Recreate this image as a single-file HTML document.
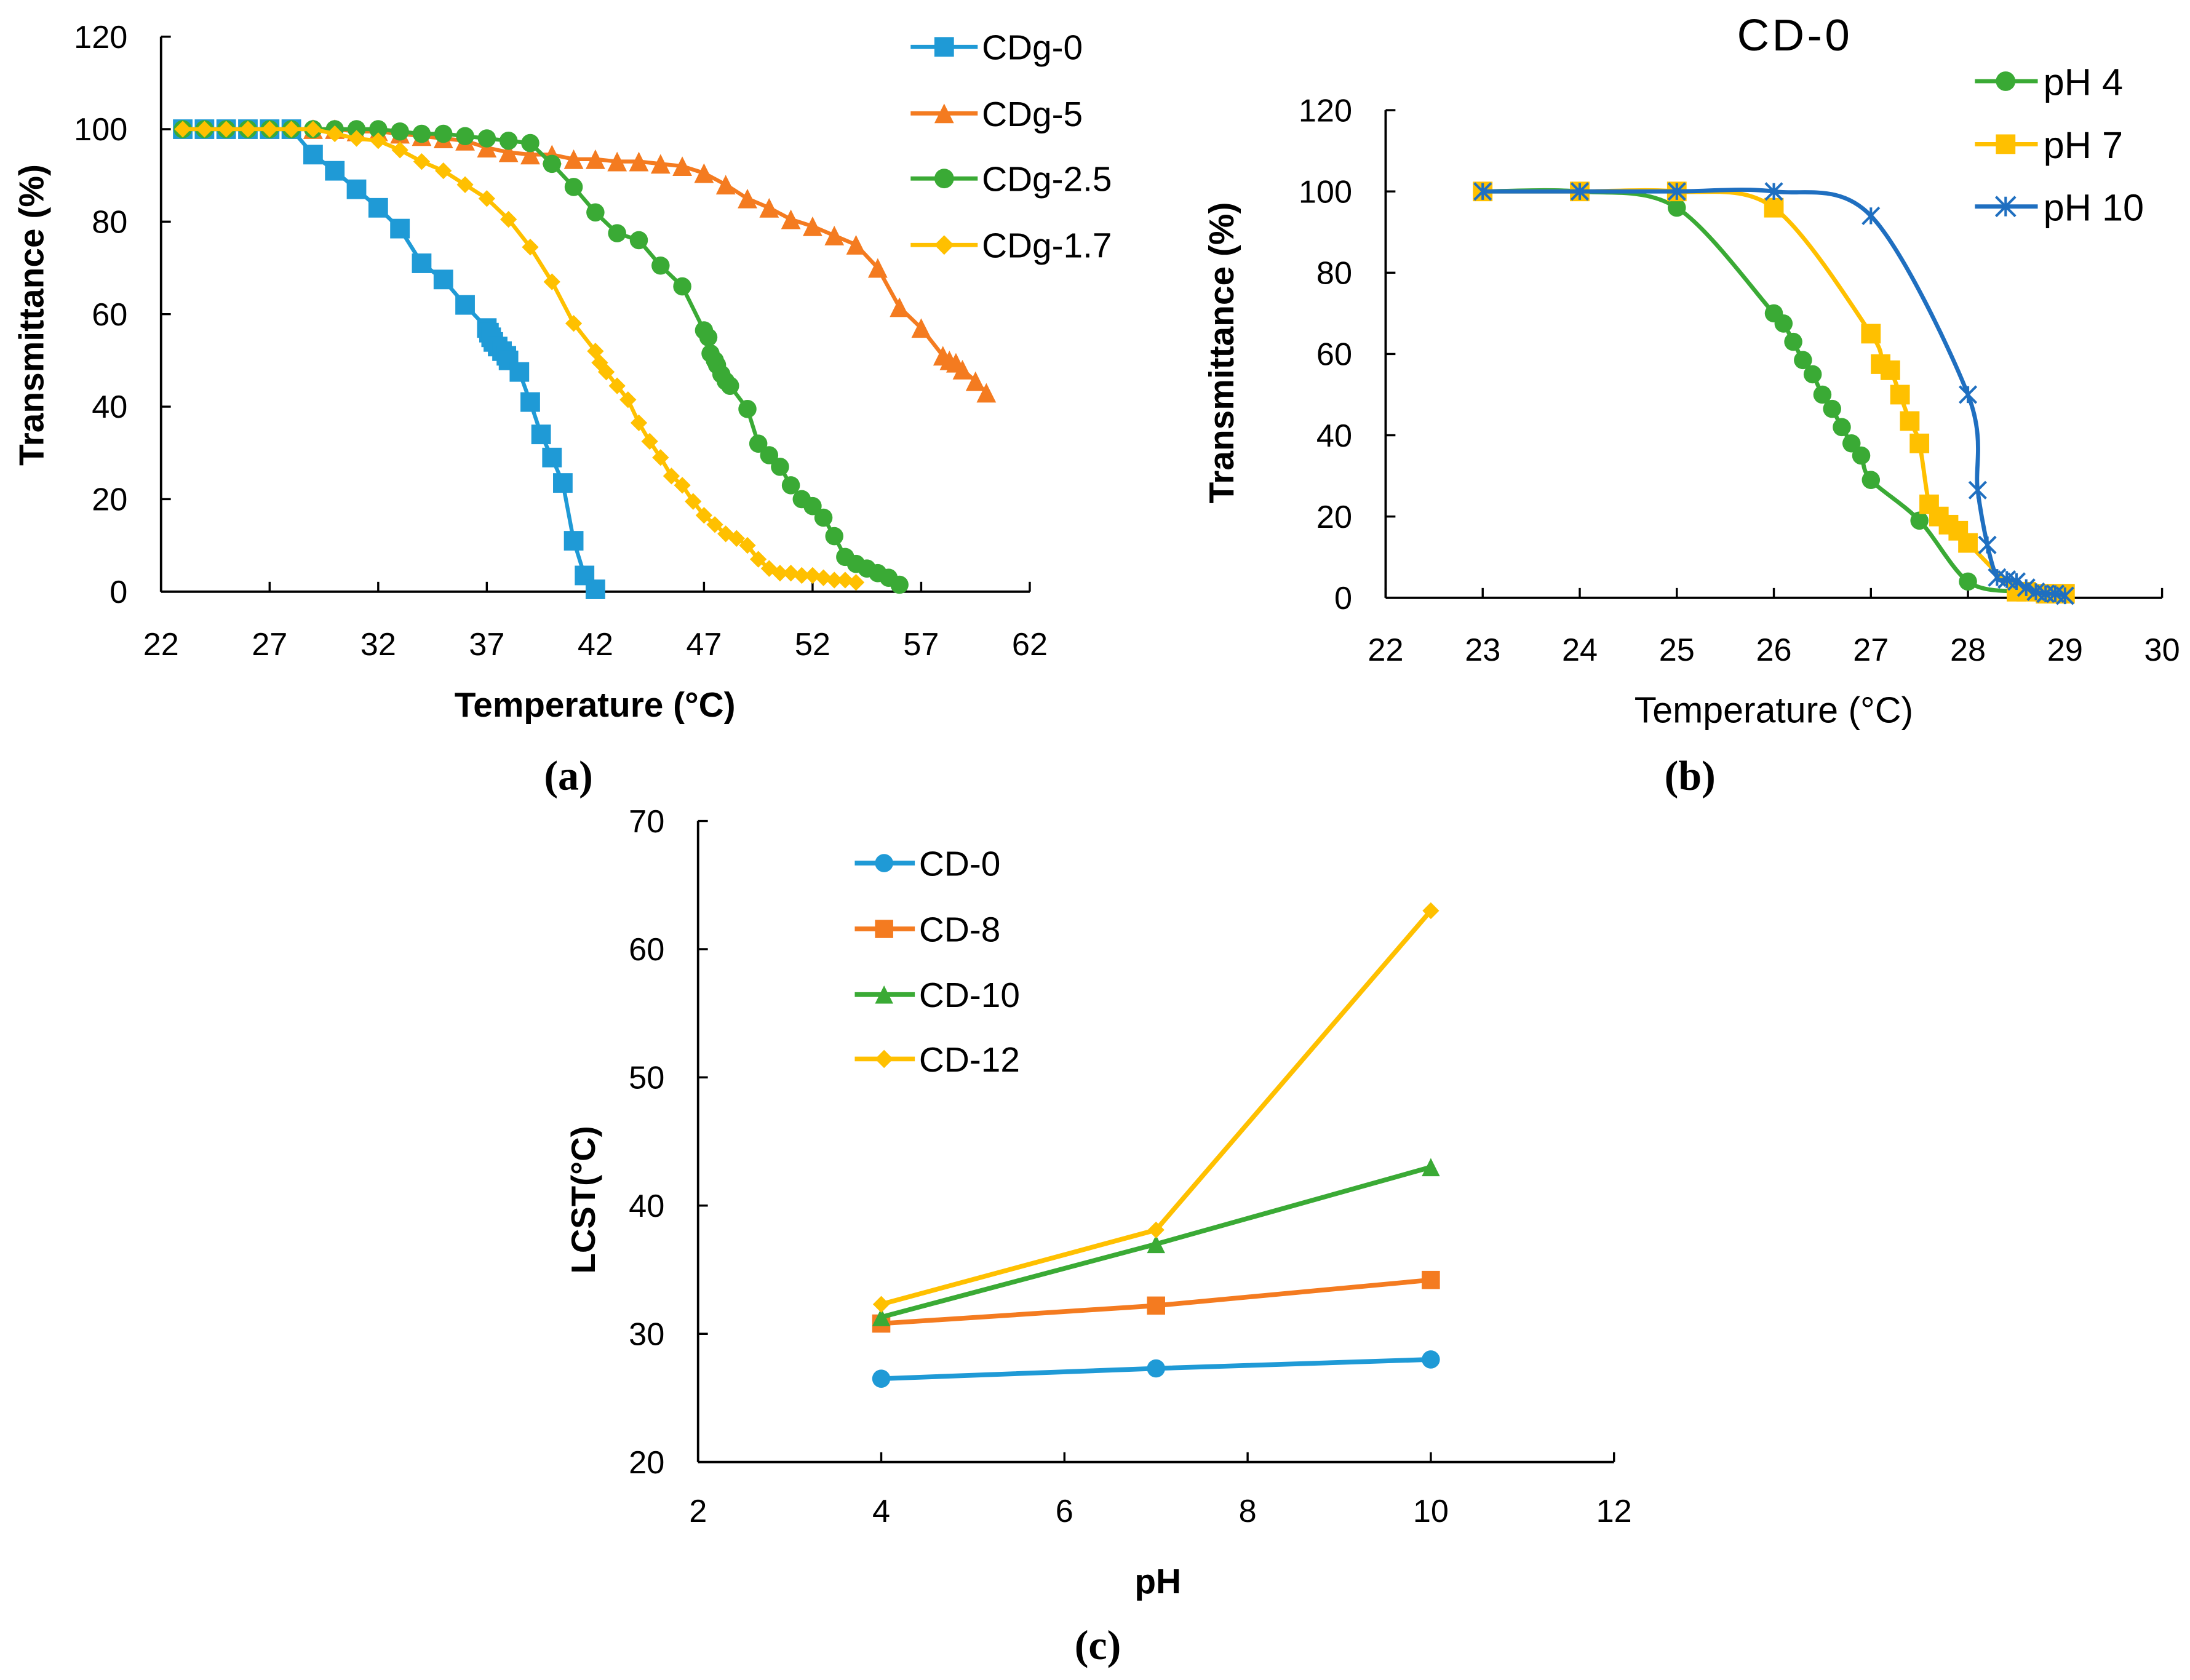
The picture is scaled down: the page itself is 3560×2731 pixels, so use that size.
<!DOCTYPE html>
<html><head><meta charset="utf-8"><style>
html,body{margin:0;padding:0;background:#fff;}
svg{display:block;}
text{font-family:"Liberation Sans",sans-serif;fill:#000;}
</style></head><body>
<svg id="fig" width="3560" height="2731" viewBox="0 0 1568 1200" preserveAspectRatio="none" xmlns="http://www.w3.org/2000/svg">
<rect width="1568" height="1200" fill="#fff"/>
</svg>
<script>
// ---------- Panel (a) data ----------
const aXTicks = [22,27,32,37,42,47,52,57,62];
const aYTicks = [0,20,40,60,80,100,120];
const aNames = ["CDg-0","CDg-5","CDg-2.5","CDg-1.7"];
const aCDg0T = [23,24,25,26,27,28,29,30,31,32,33,34,35,36,37,37.1,37.2,37.3,37.5,37.7,37.9,38,38.5,39,39.5,40,40.5,41,41.5,42];
const aCDg0V = [100,100,100,100,100,100,94.5,91,87,83,78.5,71,67.5,62,57,56,55,54,53,52,51,50,47.5,41,34,29,23.5,11,3.5,0.5];
const aCDg5T = [23,24,25,26,27,28,29,30,31,32,33,34,35,36,37,38,39,40,41,42,43,44,45,46,47,48,49,50,51,52,53,54,55,56,57,58,58.3,58.6,58.9,59.5,60];
const aCDg5V = [100,100,100,100,100,100,100,100,99.5,99.5,99,98.5,98,97.5,96,95,94.5,94.5,93.5,93.5,93,93,92.5,92,90.5,88,85,83,80.5,79,77,75,70,61.5,57,51,50,49.5,48,45.5,43];
const aCDg25T = [23,24,25,26,27,28,29,30,31,32,33,34,35,36,37,38,39,40,41,42,43,44,45,46,47,47.2,47.3,47.5,47.6,47.8,48,48.2,49,49.5,50,50.5,51,51.5,52,52.5,53,53.5,54,54.5,55,55.5,56];
const aCDg25V = [100,100,100,100,100,100,100,100,100,100,99.5,99,99,98.5,98,97.5,97,92.5,87.5,82,77.5,76,70.5,66,56.5,55,51.5,50,49,47,45.5,44.5,39.5,32,29.5,27,23,20,18.5,16,12,7.5,6,5,4,3,1.5];
const aCDg17T = [23,24,25,26,27,28,29,30,31,32,33,34,35,36,37,38,39,40,41,42,42.2,42.5,43,43.5,44,44.5,45,45.5,46,46.5,47,47.5,48,48.5,49,49.5,50,50.5,51,51.5,52,52.5,53,53.5,54];
const aCDg17V = [100,100,100,100,100,100,100,99,98,97.5,95.5,93,91,88,85,80.5,74.5,67,58,52,49.5,47.5,44.5,41.5,36.5,32.5,29,25,23,19.5,16.5,14.5,12.5,11.5,10,7,5,4,4,3.5,3.5,3,2.5,2.5,2];

// ---------- Panel (b) data ----------
const bXTicks = [22,23,24,25,26,27,28,29,30];
const bYTicks = [0,20,40,60,80,100,120];
const bNames = ["pH 4","pH 7","pH 10"];
const bPH4T = [23,24,25,26,26.1,26.2,26.3,26.4,26.5,26.6,26.7,26.8,26.9,27,27.5,28,28.5];
const bPH4V = [100,100,96,70,67.5,63,58.5,55,50,46.5,42,38,35,29,19,4,1.5];
const bPH7T = [23,24,25,26,27,27.1,27.2,27.3,27.4,27.5,27.6,27.7,27.8,27.9,28,28.5,28.6,28.8,29];
const bPH7V = [100,100,100,96,65,57.5,56,50,43.5,38,23,20,18,16.5,13.5,1.5,1.5,1,1];
const bPH10T = [23,24,25,26,27,28,28.1,28.2,28.3,28.4,28.5,28.6,28.7,28.8,28.9,29];
const bPH10V = [100,100,100,100,94,50,26.5,13,5,4.5,4,2.5,1.5,1,1,0.5];

// ---------- Panel (c) data ----------
const cXTicks = [2,4,6,8,10,12];
const cYTicks = [20,30,40,50,60,70];
const cNames = ["CD-0","CD-8","CD-10","CD-12"];
const cPH = [4,7,10];
const cCD0 = [26.5,27.3,28];
const cCD8 = [30.8,32.2,34.2];
const cCD10 = [31.3,37,43];
const cCD12 = [32.3,38.1,63];

const NS = "http://www.w3.org/2000/svg";
const svg = document.getElementById('fig');
function el(tag, attrs, parent){
  const e = document.createElementNS(NS, tag);
  for (const k in attrs) e.setAttribute(k, attrs[k]);
  (parent||svg).appendChild(e);
  return e;
}
function txt(s, x, y, size, opts, parent){
  const t = el('text', {x:x, y:y, 'font-size':size}, parent);
  if (opts){ for (const k in opts){ if (k==='font-family') t.style.fontFamily = opts[k]; else t.setAttribute(k, opts[k]); } }
  t.textContent = s;
  return t;
}
function marker(g, type, x, y, color, s){
  let m;
  if (type==='square') m = el('rect',{x:x-s/2,y:y-s/2,width:s,height:s,fill:color},g);
  else if (type==='circle') m = el('circle',{cx:x,cy:y,r:s/2,fill:color},g);
  else if (type==='triangle') m = el('polygon',{points:`${x},${y-s/2} ${x+s/2},${y+s/2} ${x-s/2},${y+s/2}`,fill:color},g);
  else if (type==='diamond') m = el('polygon',{points:`${x},${y-s/2} ${x+s/2},${y} ${x},${y+s/2} ${x-s/2},${y}`,fill:color},g);
  else if (type==='star'){
    const d=s/2;
    m = el('path',{d:`M${x-d},${y-d}L${x+d},${y+d}M${x-d},${y+d}L${x+d},${y-d}M${x},${y-d}L${x},${y+d}`,stroke:color,'stroke-width':1.8,fill:'none'},g);
  }
  return m;
}
function smoothPath(pts){
  if (pts.length<2) return '';
  let d = `M${pts[0][0]},${pts[0][1]}`;
  for (let i=0;i<pts.length-1;i++){
    const p0=pts[Math.max(0,i-1)], p1=pts[i], p2=pts[i+1], p3=pts[Math.min(pts.length-1,i+2)];
    const t=0.16;
    const c1=[p1[0]+(p2[0]-p0[0])*t, p1[1]+(p2[1]-p0[1])*t];
    const c2=[p2[0]-(p3[0]-p1[0])*t, p2[1]-(p3[1]-p1[1])*t];
    d+=`C${c1[0]},${c1[1]} ${c2[0]},${c2[1]} ${p2[0]},${p2[1]}`;
  }
  return d;
}
function axes(g, cfg){
  el('line',{x1:cfg.x0,y1:cfg.yb,x2:cfg.x1,y2:cfg.yb,stroke:'#000','stroke-width':1.7},g);
  el('line',{x1:cfg.x0,y1:cfg.yb,x2:cfg.x0,y2:cfg.yt,stroke:'#000','stroke-width':1.7},g);
  cfg.xt.forEach(v=>{
    const x=cfg.sx(v);
    el('line',{x1:x,y1:cfg.yb,x2:x,y2:cfg.yb-7,stroke:'#000','stroke-width':1.5},g);
    txt(String(v), x, cfg.xly, 23, {'text-anchor':'middle'}, g);
  });
  cfg.yt2.forEach(v=>{
    const y=cfg.sy(v);
    el('line',{x1:cfg.x0,y1:y,x2:cfg.x0+7,y2:y,stroke:'#000','stroke-width':1.5},g);
    txt(String(v), cfg.x0-24, y+8, 23, {'text-anchor':'end'}, g);
  });
}

// ===== Panel a =====
const ga = el('g',{});


const aX = v => 115.3 + (v-22)/40*(737.3-115.3);
const aY = v => 422.6 - v/120*(422.6-26.2);
axes(ga,{x0:115.3,x1:737.3,yb:422.6,yt:26.2,sx:aX,sy:aY,xt:aXTicks,yt2:aYTicks,xly:468});
txt('Transmittance (%)', 0,0,25,{'font-weight':'bold','text-anchor':'middle',transform:'translate(31,225) rotate(-90)'},ga);
txt('Temperature (°C)', 426,512,25,{'font-weight':'bold','text-anchor':'middle'},ga);
txt('(a)', 407,564,30,{'text-anchor':'middle','font-family':'"Liberation Serif", serif','font-weight':'bold'},ga);
const aSeries = [[aCDg0T,aCDg0V,'#1f9ad6','square'],[aCDg5T,aCDg5V,'#f47b20','triangle'],[aCDg25T,aCDg25V,'#3aaa35','circle'],[aCDg17T,aCDg17V,'#ffc000','diamond']];
const aDrawOrder=[1,0,2,3];
aDrawOrder.forEach(i=>{
  const [T,V,c,m]=aSeries[i];
  const g=el('g',{},ga);
  
  
  el('polyline',{points:T.map((t,k)=>aX(t)+','+aY(V[k])).join(' '),fill:'none',stroke:c,'stroke-width':2.8},g);
  T.forEach((t,k)=>marker(g,m,aX(t),aY(V[k]),c,m==='circle'?13:(m==='diamond'?12:14)));
});
const aLegY=[33.5,81,127.5,175];
aNames.forEach((n,i)=>{
  const g=el('g',{},ga);
  
  
  const [,,c,m]=aSeries[i];
  el('line',{x1:652,y1:aLegY[i],x2:700,y2:aLegY[i],stroke:c,'stroke-width':3},g);
  marker(g,m,676,aLegY[i],c,14);
  txt(n,703,aLegY[i]+9,25,{},g);
});

// ===== Panel b =====
const gb = el('g',{});


const bX = v => 992.1 + (v-22)/8*(1548-992.1);
const bY = v => 427 - v/120*(427-78.7);
axes(gb,{x0:992.1,x1:1548,yb:427,yt:78.7,sx:bX,sy:bY,xt:bXTicks,yt2:bYTicks,xly:472});
txt('CD-0',1285,36,32,{'text-anchor':'middle','letter-spacing':'2'},gb);
txt('Transmittance (%)',0,0,25,{'font-weight':'bold','text-anchor':'middle',transform:'translate(883,252) rotate(-90)'},gb);
txt('Temperature (°C)',1270,516,26,{'text-anchor':'middle'},gb);
txt('(b)',1210,564,30,{'text-anchor':'middle','font-family':'"Liberation Serif", serif','font-weight':'bold'},gb);
const bSeries=[[bPH4T,bPH4V,'#3aaa35','circle'],[bPH7T,bPH7V,'#ffc000','square'],[bPH10T,bPH10V,'#1f6fc0','star']];
bSeries.forEach((s,i)=>{
  const [T,V,c,m]=s;
  const g=el('g',{},gb);
  
  
  const pts=T.map((t,k)=>[bX(t),bY(V[k])]);
  el('path',{d:smoothPath(pts),fill:'none',stroke:c,'stroke-width':3},g);
  pts.forEach(p=>marker(g,m,p[0],p[1],c,m==='star'?12:(m==='circle'?13:14)));
});
const bLegY=[58,103,147.5];
bNames.forEach((n,i)=>{
  const g=el('g',{},gb);
  
  
  const [,,c,m]=bSeries[i];
  el('line',{x1:1414,y1:bLegY[i],x2:1459,y2:bLegY[i],stroke:c,'stroke-width':3},g);
  marker(g,m,1436,bLegY[i],c,14);
  txt(n,1463,bLegY[i]+10,27,{},g);
});

// ===== Panel c =====
const gc = el('g',{});


const cX = v => 499.8 + (v-2)/10*(1155.6-499.8);
const cY = v => 1044.3 - (v-20)/50*(1044.3-586.4);
axes(gc,{x0:499.8,x1:1155.6,yb:1044.3,yt:586.4,sx:cX,sy:cY,xt:cXTicks,yt2:cYTicks,xly:1087});
txt('LCST(°C)',0,0,24,{'font-weight':'bold','text-anchor':'middle',transform:'translate(426,857) rotate(-90)'},gc);
txt('pH',829,1138,25,{'font-weight':'bold','text-anchor':'middle'},gc);
txt('(c)',786,1185,30,{'text-anchor':'middle','font-family':'"Liberation Serif", serif','font-weight':'bold'},gc);
const cSeries=[[cCD0,'#1f9ad6','circle'],[cCD8,'#f47b20','square'],[cCD10,'#3aaa35','triangle'],[cCD12,'#ffc000','diamond']];
cSeries.forEach((s,i)=>{
  const [V,c,m]=s;
  const g=el('g',{},gc);
  
  
  el('polyline',{points:cPH.map((p,k)=>cX(p)+','+cY(V[k])).join(' '),fill:'none',stroke:c,'stroke-width':3.4},g);
  cPH.forEach((p,k)=>marker(g,m,cX(p),cY(V[k]),c,m==='diamond'?12:13));
});
const cLegY=[616.5,663.5,710.4,756.4];
cNames.forEach((n,i)=>{
  const g=el('g',{},gc);
  
  
  const [,c,m]=cSeries[i];
  el('line',{x1:612,y1:cLegY[i],x2:655,y2:cLegY[i],stroke:c,'stroke-width':3.4},g);
  marker(g,m,633,cLegY[i],c,13);
  txt(n,658,cLegY[i]+9,25,{},g);
});
</script>
</body></html>
